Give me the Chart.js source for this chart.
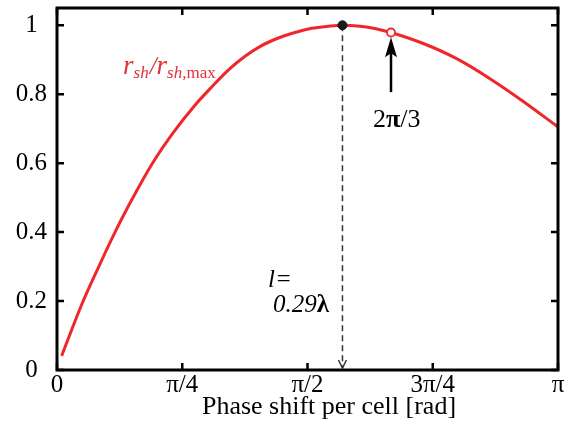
<!DOCTYPE html>
<html>
<head>
<meta charset="utf-8">
<script src="https://cdn.jsdelivr.net/npm/chart.js@4/dist/chart.umd.min.js"></script>
<style>
  body { margin: 0; background: #fff; }
  #wrap { width: 576px; height: 442px; }
</style>
</head>
<body>
<div id="wrap"><canvas id="shuntChart"></canvas></div>
<script>
// phase shift per cell [rad] and normalised shunt impedance
const phase = [0.029, 0.155, 0.26, 0.364, 0.48, 0.594, 0.73, 0.865, 0.97, 1.074, 1.179, 1.283, 1.388, 1.492, 1.597, 1.701, 1.79, 1.9, 2.0, 2.094, 2.297, 2.506, 2.715, 2.924, 3.1416];
const rsh = [0.041, 0.19, 0.298, 0.4, 0.503, 0.596, 0.689, 0.768, 0.821, 0.87, 0.91, 0.941, 0.963, 0.979, 0.991, 0.997, 1.0, 0.997, 0.99, 0.979, 0.947, 0.903, 0.845, 0.779, 0.705];

const peakPoint = [{ x: 1.79, y: 1.0 }];
const markPoint = [{ x: 2 * Math.PI / 3, y: 0.979 }];

const xTickValues = [0, Math.PI / 4, Math.PI / 2, 3 * Math.PI / 4, Math.PI];
const xTickLabels = ["0", "π/4", "π/2", "3π/4", "π"];
const yTickValues = [0, 0.2, 0.4, 0.6, 0.8, 1];
const yTickLabels = ["0", "0.2", "0.4", "0.6", "0.8", "1"];

const RED = "#f0262c";
const SERIF = "'Liberation Serif', 'DejaVu Serif', serif";

// draw text made of several font runs
function drawRuns(ctx, x, y, runs, color) {
  ctx.fillStyle = color;
  ctx.textAlign = "left";
  ctx.textBaseline = "alphabetic";
  runs.forEach(r => {
    ctx.font = r.font;
    ctx.fillText(r.t, x + (r.dx || 0), y + (r.dy || 0));
    x += ctx.measureText(r.t).width + (r.dx || 0);
  });
}

const framePlugin = {
  id: "frame",
  beforeDatasetsDraw(chart) {
    // dashed drop line from the maximum down to the axis
    const ctx = chart.ctx;
    const xs = chart.scales.x, ys = chart.scales.y;
    const px = xs.getPixelForValue(peakPoint[0].x);
    const top = ys.getPixelForValue(peakPoint[0].y);
    const bot = ys.getPixelForValue(0);
    ctx.save();
    ctx.strokeStyle = "#333";
    ctx.lineWidth = 1.5;
    ctx.setLineDash([6, 4]);
    ctx.beginPath();
    ctx.moveTo(px, top);
    ctx.lineTo(px, bot - 2);
    ctx.stroke();
    ctx.setLineDash([]);
    ctx.beginPath();
    ctx.moveTo(px - 4, bot - 10);
    ctx.lineTo(px, bot - 2);
    ctx.lineTo(px + 4, bot - 10);
    ctx.stroke();
    ctx.restore();
  },
  afterDraw(chart) {
    const ctx = chart.ctx;
    const a = chart.chartArea;
    const xs = chart.scales.x, ys = chart.scales.y;
    ctx.save();
    // ticks pointing inward on all four sides
    ctx.strokeStyle = "#000";
    ctx.lineWidth = 2.5;
    ctx.beginPath();
    xTickValues.forEach(v => {
      const p = xs.getPixelForValue(v);
      ctx.moveTo(p, a.bottom); ctx.lineTo(p, a.bottom - 7);
      ctx.moveTo(p, a.top); ctx.lineTo(p, a.top + 7);
    });
    yTickValues.forEach(v => {
      const p = ys.getPixelForValue(v);
      ctx.moveTo(a.left, p); ctx.lineTo(a.left + 7, p);
      ctx.moveTo(a.right, p); ctx.lineTo(a.right - 7, p);
    });
    ctx.stroke();
    ctx.lineWidth = 3;
    ctx.strokeRect(a.left, a.top, a.right - a.left, a.bottom - a.top);

    // arrow pointing at 2pi/3
    const ax = xs.getPixelForValue(markPoint[0].x);
    const ay0 = ys.getPixelForValue(0.806);
    const ay1 = ys.getPixelForValue(0.965);
    ctx.lineWidth = 2.5;
    ctx.beginPath();
    ctx.moveTo(ax, ay0); ctx.lineTo(ax, ay1 + 12);
    ctx.stroke();
    ctx.fillStyle = "#000";
    ctx.beginPath();
    ctx.moveTo(ax, ay1);
    ctx.lineTo(ax - 6, ay1 + 20);
    ctx.lineTo(ax, ay1 + 16);
    ctx.lineTo(ax + 6, ay1 + 20);
    ctx.closePath();
    ctx.fill();

    // texts
    drawRuns(ctx, xs.getPixelForValue(1.981), ys.getPixelForValue(0.704), [
      { t: "2", font: "26px " + SERIF },
      { t: "π", font: "bold 26px " + SERIF },
      { t: "/3", font: "26px " + SERIF }
    ], "#000");
    drawRuns(ctx, xs.getPixelForValue(1.323), ys.getPixelForValue(0.24), [
      { t: "l=", font: "italic 25px " + SERIF }
    ], "#000");
    drawRuns(ctx, xs.getPixelForValue(1.354), ys.getPixelForValue(0.168), [
      { t: "0.29", font: "italic 25px " + SERIF },
      { t: "λ", font: "bold 25px " + SERIF }
    ], "#000");
    drawRuns(ctx, xs.getPixelForValue(0.414), ys.getPixelForValue(0.858), [
      { t: "r", font: "italic 27px " + SERIF },
      { t: "sh", font: "italic 17px " + SERIF, dy: 4 },
      { t: "/", font: "italic 25px " + SERIF, dx: 1 },
      { t: "r", font: "italic 27px " + SERIF },
      { t: "sh,", font: "italic 17px " + SERIF, dy: 4 },
      { t: "max", font: "17px " + SERIF, dy: 4 }
    ], "#e0303a");

    // axis title
    ctx.fillStyle = "#000";
    ctx.font = "26px " + SERIF;
    ctx.textAlign = "center";
    ctx.textBaseline = "alphabetic";
    ctx.fillText("Phase shift per cell [rad]", 329, 414);
    ctx.restore();
  }
};

const ctx = document.getElementById("shuntChart").getContext("2d");

const shuntChart = new Chart(ctx, {
  type: "scatter",
  data: {
    datasets: [
      {
        data: peakPoint,
        pointRadius: 4.5,
        pointBackgroundColor: "#1a1a1a",
        pointBorderColor: "#1a1a1a",
        pointBorderWidth: 1,
      },
      {
        data: markPoint,
        pointRadius: 4,
        pointBackgroundColor: "#fff",
        pointBorderColor: RED,
        pointBorderWidth: 1.8,
      },
      {
        data: phase.map((p, i) => ({ x: p, y: rsh[i] })),
        showLine: true,
        borderColor: RED,
        borderWidth: 3,
        pointRadius: 0,
        cubicInterpolationMode: "monotone",
      },
    ],
  },
  options: {
    responsive: true,
    maintainAspectRatio: false,
    animation: false,
    layout: { padding: { top: 8, right: 18, left: 0, bottom: 0 } },
    plugins: { legend: { display: false }, tooltip: { enabled: false } },
    scales: {
      x: {
        type: "linear",
        min: 0,
        max: Math.PI,
        afterBuildTicks: s => { s.ticks = xTickValues.map(v => ({ value: v })); },
        afterFit: s => { s.height = 72; s.paddingLeft = 0; s.paddingRight = 0; },
        grid: { display: false, drawTicks: false },
        border: { display: false },
        ticks: {
          padding: 0,
          color: "#000",
          font: { family: SERIF, size: 25 },
          maxRotation: 0,
          callback: (v, i) => xTickLabels[i],
        },
      },
      y: {
        min: 0,
        max: 1.05,
        afterBuildTicks: s => { s.ticks = yTickValues.map(v => ({ value: v })); },
        afterFit: s => { s.width = 57; s.paddingTop = 0; s.paddingBottom = 0; },
        grid: { display: false, drawTicks: false },
        border: { display: false },
        ticks: {
          padding: 10,
          crossAlign: "center",
          color: "#000",
          font: { family: SERIF, size: 25 },
          callback: (v, i) => yTickLabels[i],
        },
      },
    },
  },
  plugins: [framePlugin],
});
</script>
</body>
</html>
